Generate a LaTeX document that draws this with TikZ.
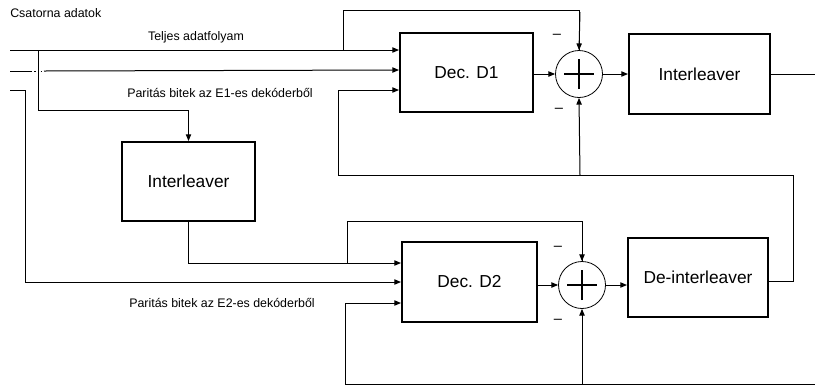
\documentclass[tikz,border=0pt]{standalone}
\usepackage{fontspec}
\setmainfont{Liberation Sans}
\usetikzlibrary{arrows.meta}
\tikzset{
  blk/.style={draw, line width=1.5pt, rectangle, inner sep=0pt, font=\fontsize{13}{15}\selectfont},
  sumc/.style={draw, line width=0.6pt, circle, minimum size=35.25pt, inner sep=0pt},
  con/.style={line width=0.75pt},
  arr/.style={con, -{Triangle[length=5pt,width=4pt]}},
  lbl/.style={font=\fontsize{9.3}{11}\selectfont, inner sep=0pt},
  minus/.style={font=\fontsize{11}{13}\selectfont, inner sep=0pt}
}
\begin{document}
\begin{tikzpicture}[x=0.75pt,y=-0.75pt]
\useasboundingbox (0,0) rectangle (815,387);
% blocks
\node[blk, minimum width=99.75pt, minimum height=59.25pt] (D1) at (466.5,72.5) {Dec. D1};
\node[sumc] (S1) at (579,74) {};
\node[blk, minimum width=105.75pt, minimum height=60pt] (IL1) at (699.5,74) {Interleaver};
\node[blk, minimum width=99.75pt, minimum height=59.25pt] (IL2) at (188.5,181.5) {Interleaver};
\node[blk, minimum width=101.25pt, minimum height=60pt] (D2) at (469.5,282) {Dec. D2};
\node[sumc] (S2) at (582,285) {};
\node[blk, minimum width=105pt, minimum height=59.25pt] (DI) at (698,277.5) {De-interleaver};
% plus signs
\foreach \s in {S1,S2}{
  \draw[line width=1.4pt] ([xshift=-11.25pt]\s.center) -- ([xshift=11.25pt]\s.center);
  \draw[line width=1.4pt] ([yshift=-11.25pt]\s.center) -- ([yshift=11.25pt]\s.center);
}
% texts
\node[lbl, anchor=west] (t0) at (10,13) {Csatorna adatok};
\node[lbl] (t1) at (196,37) {Teljes adatfolyam};
\node[lbl] (t2) at (220,93) {Paritás bitek az E1-es dekóderből};
\node[lbl] (t3) at (222,303) {Paritás bitek az E2-es dekóderből};
\node[minus] (m1) at (557,36) {–};
\node[minus] (m2) at (559,110) {–};
\node[minus] (m3) at (558,248) {–};
\node[minus] (m4) at (558,321) {–};
% input coordinates
\coordinate (in1) at (10,50);
\coordinate (in2) at (10,71);
\coordinate (in3) at (10,90);
\coordinate (out1) at (815,74);
\coordinate (fb2) at (815,384);
% line 1
\draw[arr] (in1) -- (D1.west |- in1);
\draw[con] (343,50) -- (343,10) -| (S1.north);
\draw[arr] (580,12) -- (S1.north);
\draw[arr] (38,50) -- (38,110) -| (IL2.north);
% line 2 (broken crossing)
\draw[con] (in2) -- (32,71);
\draw[con] (34,71) -- (35.5,71);
\draw[con] (40.5,71) -- (42,71);
\draw[arr] (44,71) -- (D1.west |- 0,70);
% line 3
\draw[arr] (in3) -- (25,90) -- (25,282) -- (D2.west |- 0,282);
% D1 -> sum -> interleaver
\draw[arr] (D1.east |- S1.center) -- (S1.west);
\draw[arr] (S1.east) -- (IL1.west);
\draw[con] (IL1.east) -- (out1);
% feedback from de-interleaver
\draw[arr] (DI.east |- 0,281) -- (793,281) -- (793,175) -- (338,175) -- (338,90) -- (D1.west |- 0,90);
\draw[arr] (580,175) -- (S1.south);
% interleaver 2 -> D2
\draw[arr] (IL2.south) -- (188.5,263) -- (D2.west |- 0,263);
\draw[con] (347,263) -- (347,221) -| (S2.north);
\draw[arr] (582,225) -- (S2.north);
% D2 -> sum -> deinterleaver
\draw[arr] (D2.east |- S2.center) -- (S2.west);
\draw[arr] (S2.east) -- (DI.west |- S2.center);
% bottom feedback
\draw[arr] (fb2) -- (345,384) -- (345,303) -- (D2.west |- 0,303);
\draw[arr] (582,384) -- (S2.south);
\end{tikzpicture}
\end{document}
